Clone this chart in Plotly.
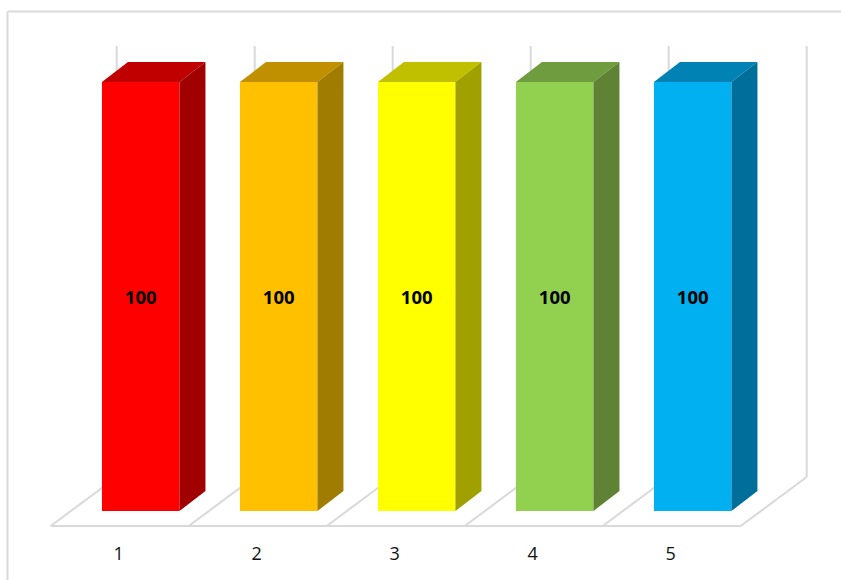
import plotly.graph_objects as go

categories = [1, 2, 3, 4, 5]
values = [100, 100, 100, 100, 100]
tick_labels = ["1", "2", "3", "4", "5"]
front_colors = ["#FF0000", "#FFC000", "#FFFF00", "#92D050", "#00B0F0"]
top_colors = ["#C00000", "#C09000", "#C0BF00", "#6F9C3E", "#0083B4"]
side_colors = ["#A00000", "#A07D00", "#A0A000", "#5F8235", "#006E9A"]

W, H = 841, 580
PX_PER_CAT = 138.0
PX_PER_VAL = 4.29
X0_PX, Y0_PX = 140.7, 511.0
GREY = "#D9D9D9"


def dx(px):
    return px / PX_PER_CAT


def dy(px):
    return px / PX_PER_VAL


x_range = [1 - dx(X0_PX), 1 + dx(W - X0_PX)]
y_range = [-dy(H - Y0_PX), dy(Y0_PX)]
bar_w = dx(77.5)
depth_x, depth_y = dx(26), dy(20)

fig = go.Figure()
fig.add_trace(go.Bar(
    x=categories, y=values, width=bar_w,
    marker=dict(color=front_colors, line=dict(width=0)),
    text=[str(v) for v in values], textposition="inside", insidetextanchor="middle",
    textangle=0, constraintext="none",
    textfont=dict(family="Open Sans, sans-serif", size=18.5, color="#000000", weight="bold"),
    hoverinfo="skip", showlegend=False,
))

for c, v, tc, sc in zip(categories, values, top_colors, side_colors):
    l, r = c - bar_w / 2, c + bar_w / 2
    fig.add_trace(go.Scatter(
        x=[l, r, r + depth_x, l + depth_x, l], y=[v, v, v + depth_y, v + depth_y, v],
        fill="toself", fillcolor=tc, mode="lines", line=dict(width=0),
        hoverinfo="skip", showlegend=False))
    fig.add_trace(go.Scatter(
        x=[r, r + depth_x, r + depth_x, r, r], y=[0, depth_y, v + depth_y, v, 0],
        fill="toself", fillcolor=sc, mode="lines", line=dict(width=0),
        hoverinfo="skip", showlegend=False))

# category labels below the floor
fig.add_trace(go.Scatter(
    x=[c - dx(22) for c in categories], y=[-dy(44)] * len(categories),
    mode="text", text=tick_labels,
    textfont=dict(family="Open Sans, sans-serif", size=18, color="#111111"),
    hoverinfo="skip", showlegend=False))

shapes = []
line = dict(color=GREY, width=2)
floor_front = -dy(15)
floor_back = dy(34)
wall_top = dy(465)
first_front = 1 - dx(90)
first_back = first_front + dx(66)
for i in range(len(categories) + 1):
    fx, bx = first_front + i, first_back + i
    shapes.append(dict(type="line", xref="x", yref="y", x0=fx, x1=bx, y0=floor_front, y1=floor_back,
                       line=line, layer="below"))
    shapes.append(dict(type="line", xref="x", yref="y", x0=bx, x1=bx, y0=floor_back, y1=wall_top,
                       line=line, layer="below"))
shapes.append(dict(type="line", xref="x", yref="y", x0=first_front, x1=first_front + len(categories),
                   y0=floor_front, y1=floor_front, line=line, layer="below"))
# chart frame: left and top edges only
shapes.append(dict(type="line", xref="paper", yref="paper", x0=7.5 / W, x1=7.5 / W,
                   y0=0, y1=1 - 11.5 / H, line=line, layer="below"))
shapes.append(dict(type="line", xref="paper", yref="paper", x0=7.5 / W, x1=1,
                   y0=1 - 11.5 / H, y1=1 - 11.5 / H, line=line, layer="below"))

fig.update_layout(
    width=W, height=H, autosize=False,
    margin=dict(l=0, r=0, t=0, b=0),
    paper_bgcolor="white", plot_bgcolor="white",
    showlegend=False, shapes=shapes,
    xaxis=dict(range=x_range, visible=False, fixedrange=True),
    yaxis=dict(range=y_range, visible=False, fixedrange=True),
)
fig.write_html(
    "out.html",
    config=dict(displayModeBar=False),
    post_script="document.body.style.margin='0';document.documentElement.style.overflow='hidden';",
)
